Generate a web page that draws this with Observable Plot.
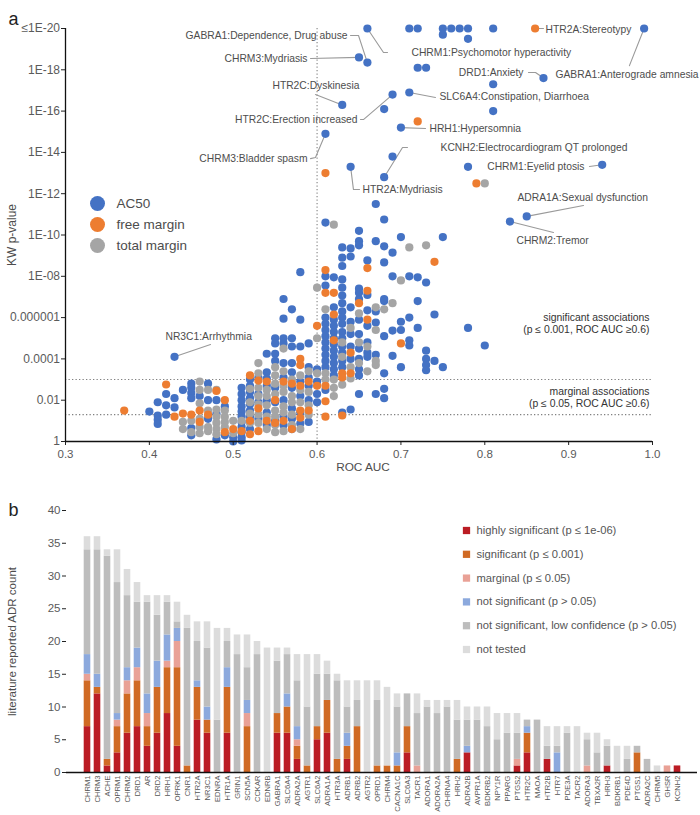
<!DOCTYPE html>
<html><head><meta charset="utf-8">
<script src="https://cdn.jsdelivr.net/npm/d3@7"></script>
<script src="https://cdn.jsdelivr.net/npm/@observablehq/plot@0.6"></script>
<style>
body{margin:0;background:#fff;}
#wrap{position:relative;width:700px;height:815px;font-family:"Liberation Sans",Arial,sans-serif;overflow:hidden;}
#panelA,#panelB{position:absolute;left:0;}
#panelA{top:0} #panelB{top:490px}
svg{overflow:visible}
</style></head><body><div id="wrap"><div id="panelA"></div><div id="panelB"></div></div>
<script>
// ---------- panel a data: [ROC AUC, -log10(KW p-value)] (capped at 20) ----------
const ac50 = [
[0.40,1.45],[0.41,1.9],[0.41,1.25],[0.41,1.05],[0.41,0.85],[0.42,2.3],[0.42,1.75],[0.42,1.3],
[0.43,4.1],[0.43,2.1],[0.43,1.65],[0.44,2.5],[0.45,2.8],[0.45,2.6],[0.45,2.35],[0.45,2.1],[0.45,0.65],[0.45,0.3],
[0.46,2.2],[0.47,2.8],[0.47,2.0],[0.47,1.1],[0.48,2.0],[0.48,1.35],[0.48,0.1],[0.49,1.7],[0.49,0.3],[0.50,0.2],[0.50,0.0],
[0.51,2.6],[0.51,2.3],[0.51,2.0],[0.51,1.7],[0.51,1.45],[0.51,1.2],[0.51,0.95],[0.51,0.7],[0.51,0.45],[0.51,0.2],[0.51,0.05],
[0.52,3.0],[0.52,2.7],[0.52,2.4],[0.52,2.1],[0.52,1.8],[0.52,1.5],[0.52,1.2],[0.52,0.6],
[0.53,3.1],[0.53,2.3],[0.53,1.9],[0.53,1.1],
[0.54,4.25],[0.54,3.35],[0.54,3.05],[0.54,2.7],[0.54,2.0],[0.54,1.4],[0.54,0.8],
[0.55,5.0],[0.55,4.75],[0.55,4.25],[0.55,3.9],[0.55,2.6],[0.55,1.9],[0.55,1.0],
[0.56,6.9],[0.56,5.95],[0.56,5.0],[0.56,4.75],[0.56,3.8],[0.56,3.1],[0.56,2.0],[0.56,1.2],[0.56,0.8],
[0.57,6.4],[0.57,5.0],[0.57,4.6],[0.57,3.8],[0.57,3.35],[0.57,2.6],[0.57,1.6],[0.57,1.1],[0.57,0.6],
[0.58,8.2],[0.58,5.9],[0.58,4.6],[0.58,2.9],[0.58,2.2],[0.58,1.4],[0.58,0.87],
[0.59,4.75],[0.59,3.6],[0.59,3.1],[0.59,2.7],[0.59,2.0],[0.59,0.95],
[0.60,3.5],[0.60,2.9],[0.60,2.3],[0.60,1.9],
[0.61,14.9],[0.61,10.6],[0.61,8.0],[0.61,7.55],[0.61,6.0],[0.61,5.7],[0.61,5.4],[0.61,5.1],[0.61,4.8],[0.61,4.5],[0.61,4.2],[0.61,3.9],[0.61,3.6],[0.61,2.5],
[0.62,7.95],[0.62,6.5],[0.62,5.9],[0.62,5.6],[0.62,5.3],[0.62,5.0],[0.62,4.7],[0.62,4.4],[0.62,4.1],[0.62,3.8],[0.62,3.5],[0.62,3.2],
[0.63,16.3],[0.63,9.4],[0.63,8.9],[0.63,8.5],[0.63,7.85],[0.63,7.45],[0.63,7.07],[0.63,6.7],[0.63,6.3],[0.63,6.0],[0.63,5.7],[0.63,5.3],[0.63,5.0],[0.63,4.6],[0.63,4.3],[0.63,3.9],[0.63,3.6],[0.63,1.4],
[0.64,13.3],[0.64,9.35],[0.64,8.96],[0.64,6.5],[0.64,5.8],[0.64,5.2],[0.64,4.6],[0.64,4.0],[0.64,1.55],
[0.65,18.6],[0.65,10.2],[0.65,9.7],[0.65,9.5],[0.65,7.4],[0.65,7.2],[0.65,6.9],[0.65,5.9],[0.65,5.2],[0.65,4.5],[0.65,4.0],[0.65,3.5],[0.65,3.2],[0.65,2.3],
[0.66,20],[0.66,18.35],[0.66,8.77],[0.66,7.1],[0.66,6.35],[0.66,5.6],[0.66,4.8],[0.66,4.3],[0.66,4.1],
[0.67,11.5],[0.67,9.7],[0.67,6.3],[0.67,5.76],[0.67,4.2],[0.67,2.3],
[0.68,16.1],[0.68,12.8],[0.68,10.75],[0.68,9.45],[0.68,8.67],[0.68,6.9],[0.68,6.8],[0.68,5.1],[0.68,3.3],[0.68,2.55],[0.68,2.1],
[0.69,16.8],[0.69,13.8],[0.69,9.15],[0.69,8.0],[0.69,5.37],[0.69,4.15],
[0.70,15.2],[0.70,9.9],[0.70,5.8],[0.70,5.4],[0.70,3.6],
[0.71,20],[0.71,16.9],[0.71,8.0],[0.71,6.0],[0.71,4.9],[0.71,4.65],
[0.72,20],[0.72,18.1],[0.72,7.95],[0.72,6.8],[0.72,5.5],
[0.73,18.1],[0.73,7.7],[0.73,4.4],[0.73,4.0],[0.73,3.7],[0.73,3.45],
[0.74,6.15],[0.74,3.9],[0.75,20],[0.75,19.7],[0.75,9.9],[0.75,3.6],[0.76,20],[0.77,20],
[0.78,20],[0.78,19.5],[0.78,13.3],[0.78,5.5],[0.80,4.65],[0.81,20],[0.81,17.3],[0.81,16.0],
[0.83,10.65],[0.85,10.9],[0.87,17.6],[0.94,13.4],[0.99,20]
];
const freeMargin = [
[0.37,1.5],[0.42,2.76],[0.43,1.2],[0.44,1.35],[0.45,1.3],[0.46,1.5],[0.46,0.95],[0.47,1.3],[0.48,2.45],
[0.49,2.0],[0.49,0.45],[0.50,0.6],[0.51,0.5],[0.52,3.2],[0.52,1.0],[0.52,0.35],[0.53,2.95],[0.53,1.6],[0.53,0.5],
[0.54,2.9],[0.54,1.0],[0.55,2.0],[0.55,0.9],[0.56,2.9],[0.56,1.0],[0.57,2.8],[0.57,0.6],
[0.58,4.0],[0.58,3.7],[0.58,2.7],[0.58,1.5],[0.58,1.15],[0.59,2.9],[0.59,1.5],[0.60,5.6],[0.60,2.7],
[0.61,13.0],[0.61,8.3],[0.61,7.2],[0.61,2.7],[0.61,1.95],[0.61,1.2],[0.62,7.2],[0.62,6.15],[0.62,4.9],
[0.63,3.3],[0.63,3.1],[0.63,1.26],[0.64,4.3],[0.64,3.3],[0.65,6.7],[0.66,8.4],[0.66,7.3],[0.66,5.9],
[0.70,4.75],[0.72,15.5],[0.74,8.7],[0.79,12.5],[0.86,20]
];
const totalMargin = [
[0.44,0.95],[0.44,0.6],[0.45,1.0],[0.45,0.45],[0.46,2.9],[0.46,2.5],[0.46,1.85],[0.46,1.1],[0.46,0.7],[0.46,0.4],
[0.47,2.5],[0.47,1.5],[0.47,0.7],[0.47,0.5],[0.48,2.5],[0.48,1.55],[0.48,1.2],[0.48,0.9],[0.48,0.6],[0.48,0.35],
[0.49,1.5],[0.49,1.2],[0.49,0.95],[0.49,0.7],[0.50,1.0],[0.50,0.4],[0.51,1.0],
[0.52,2.55],[0.52,1.9],[0.52,1.35],[0.52,0.9],[0.53,3.8],[0.53,3.3],[0.53,2.6],[0.53,2.2],[0.53,1.8],[0.53,1.3],[0.53,0.9],
[0.54,2.5],[0.54,2.2],[0.54,1.75],[0.54,1.2],[0.54,0.6],[0.55,3.6],[0.55,3.2],[0.55,2.8],[0.55,2.3],[0.55,1.5],[0.55,1.2],[0.55,0.8],[0.55,0.45],
[0.56,4.5],[0.56,3.4],[0.56,2.7],[0.56,2.4],[0.56,1.7],[0.56,1.4],[0.56,0.5],[0.57,3.0],[0.57,2.2],[0.57,1.9],[0.57,1.3],[0.57,0.8],
[0.58,3.2],[0.58,2.5],[0.58,1.9],[0.58,0.6],[0.59,3.4],[0.59,2.4],[0.59,1.75],[0.59,1.3],[0.60,7.45],[0.60,5.0],[0.60,3.3],
[0.61,6.4],[0.61,3.3],[0.61,3.0],[0.62,10.5],[0.62,3.0],[0.62,2.6],[0.62,2.2],[0.63,4.8],[0.63,4.1],[0.63,2.75],
[0.64,5.5],[0.64,3.6],[0.64,3.05],[0.65,6.2],[0.65,4.8],[0.65,3.8],[0.66,4.6],[0.66,3.4],
[0.67,6.5],[0.67,5.4],[0.67,3.9],[0.67,3.7],[0.68,6.4],[0.69,6.7],[0.70,7.8],[0.71,9.4],[0.73,9.5],[0.80,12.5]
];
const seriesNames = ["AC50","free margin","total margin"];
const seriesColors = ["#4472C4","#ED7D31","#A5A5A5"];
const yTickValues = [0,2,4,6,8,10,12,14,16,18,20];
const yTickLabels = ["1","0.01","0.0001","0.000001","1E-08","1E-10","1E-12","1E-14","1E-16","1E-18","≤1E-20"];
const xTickValues = [0.3,0.4,0.5,0.6,0.7,0.8,0.9,1.0];
const pSignificant = 0.001, pMarginal = 0.05, aucThreshold = 0.6;

// labelled associations: point, label text, label anchor and leader waypoints (data units)
const annotations = [
 {label:"GABRA1:Dependence, Drug abuse", point:[0.66,18.35], anchor:"end", at:[0.6363,19.66], via:[[0.6494,19.66],[0.6399,19.66]]},
 {label:"CHRM3:Mydriasis", point:[0.65,18.6], anchor:"end", at:[0.5886,18.55], via:[[0.5922,18.55]]},
 {label:"HTR2C:Dyskinesia", point:[0.63,16.3], anchor:"start", at:[0.5468,17.24], via:[[0.5981,16.8]]},
 {label:"HTR2C:Erection increased", point:[0.69,16.8], anchor:"end", at:[0.6482,15.59], via:[[0.6553,15.59],[0.6518,15.59]]},
 {label:"CHRM3:Bladder spasm", point:[0.61,14.9], anchor:"end", at:[0.5886,13.70], via:[[0.5981,13.75],[0.5922,13.70]]},
 {label:"GABRA1:Anterograde amnesia", point:[0.99,20], anchor:"start", at:[0.8843,17.77], via:[[0.9725,18.2]]},
 {label:"HTR2A:Stereotypy", point:[0.86,20], anchor:"start", at:[0.8724,19.95], via:[[0.8700,20]]},
 {label:"CHRM1:Psychomotor hyperactivity", point:[0.66,20], anchor:"start", at:[0.7126,18.84], via:[[0.6792,18.84],[0.684,18.84]]},
 {label:"DRD1:Anxiety", point:[0.87,17.6], anchor:"end", at:[0.8461,17.87], via:[[0.8605,17.87],[0.8521,17.87]]},
 {label:"SLC6A4:Constipation, Diarrhoea", point:[0.71,16.9], anchor:"start", at:[0.746,16.71], via:[[0.7412,16.66]]},
 {label:"HRH1:Hypersomnia", point:[0.70,15.2], anchor:"start", at:[0.734,15.16], via:[[0.7293,15.16]]},
 {label:"KCNH2:Electrocardiogram QT prolonged", point:[0.68,12.8], anchor:"start", at:[0.7472,14.24], via:[[0.7019,14.24],[0.7078,14.24]]},
 {label:"CHRM1:Eyelid ptosis", point:[0.94,13.4], anchor:"end", at:[0.9189,13.32], via:[[0.9248,13.32]]},
 {label:"ADRA1A:Sexual dysfunction", point:[0.85,10.9], anchor:"start", at:[0.839,11.82], via:[[0.9177,11.43]]},
 {label:"CHRM2:Tremor", point:[0.83,10.65], anchor:"start", at:[0.8378,9.73], via:[[0.8819,10.12]]},
 {label:"NR3C1:Arrhythmia", point:[0.43,4.1], anchor:"start", at:[0.4192,5.08], via:[[0.4729,4.70]]},
 {label:"HTR2A:Mydriasis", point:[0.64,13.3], anchor:"start", at:[0.6542,12.2], via:[[0.6434,12.2],[0.6506,12.2]]}
];

// ---------- panel b data ----------
const genes = ["CHRM1","CHRM3","ACHE","OPRM1","CHRM2","DRD1","AR","DRD2","HRH1","OPRK1","CNR1","HTR2A","NR3C1","EDNRA","HTR1A","GRIN1","SCN5A","CCKAR","EDNRB","GABRA1","SLC6A4","ADRA2A","AGTR1","SLC6A2","ADRA1A","HTR3A","ADRB1","ADRB2","AGTR2","OPRD1","CHRM4","CACNA1C","SLC6A3","TACR1","ADORA1","ADORA2A","CHRNA4","HRH2","ADRA2B","AVPR1A","BDKRB2","NPY1R","PPARG","PTGS2","HTR2C","MAOA","HTR2B","HTR7","PDE3A","TACR2","ADORA3","TBXA2R","HRH3","BDKRB1","PDE4D","PTGS1","ADRA2C","CHRM5","GHSR","KCNH2"];
const highlySig   = [7,12,1,3,6,7,4,6,9,4,0,8,6,0,6,0,0,0,0,6,6,2,0,5,6,0,2,0,0,0,0,0,3,0,0,0,0,0,3,0,0,0,0,1,3,0,2,0,0,0,0,0,1,0,0,0,0,0,0,1];
const significant = [7,1,1,4,6,7,3,7,7,12,1,5,2,0,7,0,7,0,0,3,4,2,1,2,5,2,2,7,0,1,1,1,4,0,0,0,0,2,0,0,0,0,0,0,3,0,0,0,0,0,0,0,0,0,0,3,0,0,0,0];
const marginal    = [1,0,0,1,2,2,2,0,1,4,0,0,0,0,0,0,2,0,0,0,0,1,0,0,0,0,0,0,0,0,0,0,0,1,0,0,0,0,0,0,0,0,0,1,0,0,0,0,0,0,1,0,0,0,0,0,0,0,1,0];
const notSig      = [3,2,0,1,2,3,3,4,4,2,0,1,2,0,3,0,2,0,0,0,2,2,0,0,0,0,2,0,0,0,0,2,0,0,0,0,0,0,1,0,0,0,0,0,1,0,0,3,0,0,0,0,0,0,0,0,0,0,0,0];
const lowConf     = [16,19,31,20,11,7,14,7,5,1,21,6,9,8,4,18,5,18,0,8,6,7,9,8,4,12,4,4,0,10,0,7,5,8,10,9,10,6,4,8,7,5,6,4,1,8,2,1,6,0,4,3,3,0,2,1,2,0,0,0];
const notTested   = [2,2,1,5,4,3,1,3,1,3,2,3,4,14,2,3,5,2,19,2,1,4,8,3,2,1,4,3,14,3,12,2,0,3,1,2,1,3,2,2,3,4,3,3,0,0,3,3,1,7,1,3,1,4,2,0,0,1,0,0];
const categories = ["highly significant (p ≤ 1e-06)","significant (p ≤ 0.001)","marginal (p ≤ 0.05)","not significant (p > 0.05)","not significant, low confidence (p > 0.05)","not tested"];
const categoryColors = ["#BB1C24","#D06A24","#E9A196","#8CA9DD","#BDBDBD","#DCDCDC"];
const barYTicks = [0,5,10,15,20,25,30,35,40];

// ---------- build panel a ----------
const FONT = "'Liberation Sans', Arial, sans-serif";
const TXT = "#4d4d4d";
const toRows = (arr, s) => arr.map(([x, y]) => ({x, y, s}));
const scatterRows = [...toRows(ac50, seriesNames[0]), ...toRows(totalMargin, seriesNames[2]), ...toRows(freeMargin, seriesNames[1])];
const leaderRows = annotations.flatMap(a => [a.point, ...a.via].map(([x, y]) => ({x, y, id: a.label})));
const labelRows = annotations.map(a => ({x: a.at[0], y: a.at[1], label: a.label, anchor: a.anchor}));

const legendA = seriesNames.map((name, i) => [
  Plot.dot([name], {frameAnchor: "top-left", dx: 32, dy: 175 + i * 21, r: 7.5, fill: seriesColors[i]}),
  Plot.text([name], {frameAnchor: "top-left", dx: 51, dy: 175 + i * 21, text: d => d, textAnchor: "start", lineAnchor: "middle", fontSize: 13.5, fill: TXT})
]).flat();

const plotA = Plot.plot({
  width: 700, height: 490,
  marginTop: 28, marginRight: 48, marginBottom: 49, marginLeft: 65,
  style: {fontFamily: FONT, background: "#fff", overflow: "visible"},
  x: {domain: [0.3, 1.0]},
  y: {domain: [0, 20]},
  color: {domain: seriesNames, range: seriesColors},
  marks: [
    Plot.ruleY([-Math.log10(pSignificant), -Math.log10(pMarginal)], {stroke: "#808080", strokeDasharray: "1.3,2.2", strokeWidth: 1.1}),
    Plot.ruleX([aucThreshold], {stroke: "#808080", strokeDasharray: "1.3,2.2", strokeWidth: 1.1}),
    Plot.line(leaderRows, {x: "x", y: "y", z: "id", stroke: "#9a9a9a", strokeWidth: 1.1}),
    Plot.dot(scatterRows, {x: "x", y: "y", fill: "s", r: 4.1}),
    Plot.text(labelRows.filter(d => d.anchor === "start"), {x: "x", y: "y", text: "label", textAnchor: "start", lineAnchor: "middle", fontSize: 10.3, fill: TXT}),
    Plot.text(labelRows.filter(d => d.anchor === "end"), {x: "x", y: "y", text: "label", textAnchor: "end", lineAnchor: "middle", fontSize: 10.3, fill: TXT}),
    Plot.text(["significant associations\n(p ≤ 0.001, ROC AUC ≥0.6)"], {frameAnchor: "top-right", dx: -3, dy: 295, text: d => d, textAnchor: "end", lineAnchor: "middle", lineHeight: 1.15, fontSize: 10.4, fill: "#333"}),
    Plot.text(["marginal associations\n(p ≤ 0.05, ROC AUC ≥0.6)"], {frameAnchor: "top-right", dx: -3, dy: 369, text: d => d, textAnchor: "end", lineAnchor: "middle", lineHeight: 1.15, fontSize: 10.4, fill: "#333"}),
    ...legendA,
    Plot.axisY({ticks: yTickValues, tickFormat: d => yTickLabels[yTickValues.indexOf(d)], tickSize: 4, tickPadding: 1.5, fontSize: 12, color: "#222", fill: "#5a5a5a", label: null}),
    Plot.axisX({ticks: xTickValues, tickFormat: d3.format(".1f"), tickSize: 4, tickPadding: 4, fontSize: 11.5, color: "#222", fill: "#5a5a5a", label: null}),
    Plot.ruleX([0.3], {stroke: "#111", strokeWidth: 1.3}),
    Plot.ruleY([0], {stroke: "#111", strokeWidth: 1.3}),
    Plot.text(["ROC AUC"], {frameAnchor: "bottom", dx: 4, dy: 29, text: d => d, textAnchor: "middle", fontSize: 11.8, fill: TXT}),
    Plot.text(["KW p-value"], {frameAnchor: "left", dx: -53, text: d => d, rotate: -90, textAnchor: "middle", fontSize: 12, fill: TXT}),
    Plot.text(["a"], {frameAnchor: "top-left", dx: -57, dy: -16, text: d => d, fontSize: 18, fill: "#222"})
  ]
});
document.getElementById("panelA").appendChild(plotA);

// ---------- build panel b ----------
const counts = [highlySig, significant, marginal, notSig, lowConf, notTested];
const barRows = genes.flatMap((g, i) => counts.map((arr, k) => ({gene: g, cat: categories[k], n: arr[i]})));

const legendB = categories.map((c, i) => [
  Plot.dot([c], {frameAnchor: "top-left", dx: 400, dy: 20 + i * 23.8, symbol: "square", r: 4.1, fill: categoryColors[i]}),
  Plot.text([c], {frameAnchor: "top-left", dx: 410, dy: 20 + i * 23.8, text: d => d, textAnchor: "start", lineAnchor: "middle", fontSize: 11.2, fill: "#555"})
]).flat();

const plotB = Plot.plot({
  width: 700, height: 325,
  marginTop: 20, marginRight: 3, marginBottom: 43, marginLeft: 66,
  style: {fontFamily: FONT, background: "#fff", overflow: "visible"},
  x: {domain: genes, range: [66.8, 696.2], padding: 0},
  y: {domain: [0, 40]},
  color: {domain: categories, range: categoryColors},
  marks: [
    Plot.barY(barRows, {x: "gene", y: "n", fill: "cat", insetLeft: 1.7, insetRight: 1.7}),
    Plot.axisY({ticks: barYTicks, tickSize: 4, tickPadding: 2, fontSize: 11.5, color: "#222", fill: "#5a5a5a", label: null, line: true}),
    Plot.axisX({tickSize: 0, tickPadding: 3, tickRotate: -90, fontSize: 7.6, fill: "#555", label: null}),
    Plot.ruleY([0], {stroke: "#111", strokeWidth: 1.3}),
    ...legendB,
    Plot.text(["literature reported ADR count"], {frameAnchor: "left", dx: -54, text: d => d, rotate: -90, textAnchor: "middle", fontSize: 11.5, fill: TXT}),
    Plot.text(["b"], {frameAnchor: "top-left", dx: -58, dy: -7, text: d => d, fontSize: 18, fill: "#222"})
  ]
});
document.getElementById("panelB").appendChild(plotB);
</script></body></html>
